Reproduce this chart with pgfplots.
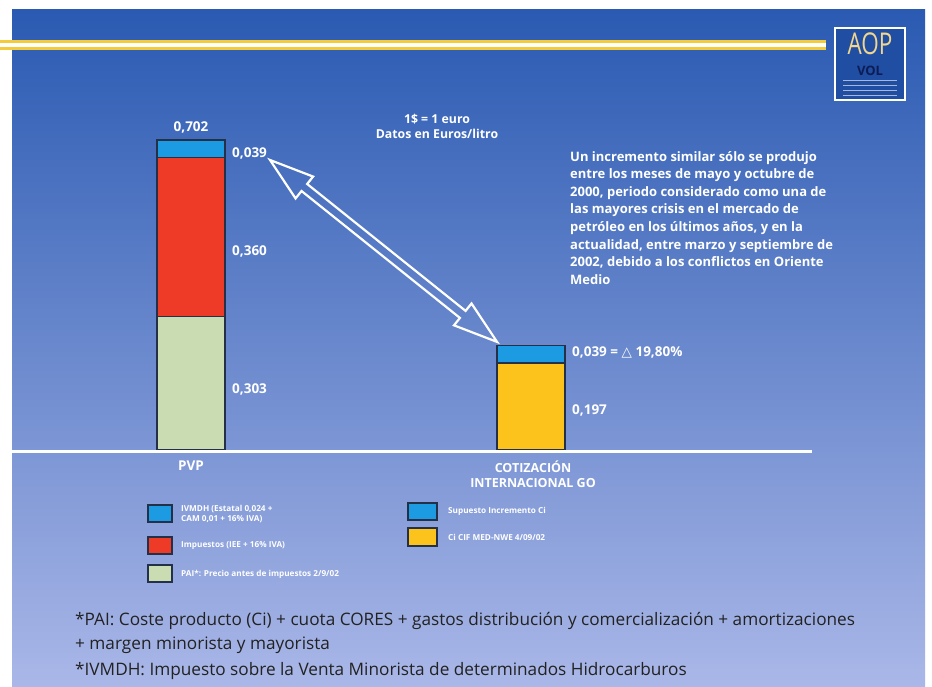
\documentclass[border=0pt]{standalone}
\usepackage{pgfplots}
\pgfplotsset{compat=1.18}
\usepackage{fontspec}
\setmainfont{Open Sans}
\newfontfamily\symfont{DejaVu Sans}

\definecolor{bgtop}{HTML}{2A5AB2}
\definecolor{bgmid}{HTML}{6F8AD2}
\definecolor{bgbot}{HTML}{AAB7E8}
\definecolor{ivmdh}{HTML}{1C9BE2}
\definecolor{impuestos}{HTML}{EE3B28}
\definecolor{pai}{HTML}{CADDB2}
\definecolor{cif}{HTML}{FBC31B}
\definecolor{edge}{HTML}{243048}
\definecolor{stripe}{HTML}{F4CC3A}
\definecolor{note}{HTML}{222222}
\definecolor{logoblue}{HTML}{1F4EA3}
\definecolor{logoyellow}{HTML}{F2D68C}
\definecolor{logonavy}{HTML}{0E1C55}

\begin{document}
\begin{tikzpicture}
\useasboundingbox (0,0) rectangle (932pt,687pt);
\fill[white] (0,0) rectangle (932pt,687pt);
\shade[top color=bgtop, middle color=bgmid, bottom color=bgbot] (12pt,0pt) rectangle (925pt,677pt);
% yellow stripe
\draw[stripe, line width=10pt] (0pt,642pt) -- (826pt,642pt);
\draw[white, line width=4pt] (0pt,642pt) -- (826pt,642pt);

\begin{axis}[
  at={(0pt,0pt)}, anchor=south west,
  scale only axis, width=932pt, height=687pt,
  xmin=0, xmax=932, ymin=-0.53668, ymax=1.01902,
  hide axis,
  ybar stacked, bar width=68,
]
% PVP: PAI, impuestos, IVMDH
\addplot[fill=pai, draw=edge, line width=1.2pt] coordinates {(191,0.303) (531,0)};
\addplot[fill=impuestos, draw=edge, line width=1.2pt] coordinates {(191,0.360) (531,0)};
\addplot[fill=ivmdh, draw=edge, line width=1.2pt] coordinates {(191,0.039) (531,0)};
% cotizacion internacional GO
\addplot[fill=cif, draw=edge, line width=1.2pt] coordinates {(191,0) (531,0.197)};
\addplot[fill=ivmdh, draw=edge, line width=1.2pt] coordinates {(191,0) (531,0.039)};
\end{axis}

\begin{scope}[shift={(0pt,687pt)}, x=1pt, y=-1pt]
  % baseline
  \draw[white, line width=3] (12,452) -- (812,452);

  % logo
  \draw[white, line width=1.5, fill=logoblue] (835,28) rectangle (905,100);
  \node[text=logoyellow, font=\fontsize{30}{30}\selectfont, xscale=0.75, inner sep=0] at (870,44) {AOP};
  \node[text=logonavy, font=\bfseries\fontsize{13}{13}\selectfont, inner sep=0] at (870,71) {VOL};
  \foreach \yy in {81,86,91,96} \draw[white!60!logoblue, line width=1] (843,\yy) -- (897,\yy);

  % value labels
  \begin{scope}[every node/.style={text=white, font=\bfseries\fontsize{13.5}{15}\selectfont, inner sep=0}]
    \node at (191,127) {0,702};
    \node[anchor=west] at (232,153) {0,039};
    \node[anchor=west] at (232,251) {0,360};
    \node[anchor=west] at (232,389) {0,303};
    \node[anchor=west] at (572,352) {0,039 = {\symfont\mdseries △} 19,80\%};
    \node[anchor=west] at (572,410) {0,197};
    \node[font=\bfseries\fontsize{12.3}{14}\selectfont] at (437,119) {1\$ = 1 euro};
    \node[font=\bfseries\fontsize{12.3}{14}\selectfont] at (437,134) {Datos en Euros/litro};
    \node at (191,466) {PVP};
    \node[align=center, font=\bfseries\fontsize{12.5}{15}\selectfont] at (533,474) {COTIZACIÓN\\INTERNACIONAL GO};
    \node[anchor=north west, align=left, font=\bfseries\fontsize{13}{17.6}\selectfont] at (570,151)
      {Un incremento similar sólo se produjo\\
       entre los meses de mayo y octubre de\\
       2000, periodo considerado como una de\\
       las mayores crisis en el mercado de\\
       petróleo en los últimos años, y en la\\
       actualidad, entre marzo y septiembre de\\
       2002, debido a los conflictos en Oriente\\
       Medio};
  \end{scope}

  % arrow
  \begin{scope}[shift={(270,160)}, rotate=-38.7]
    \draw[white, line width=2.2, line join=miter]
      (0,0) -- (44,-14) -- (44,-4.5) -- (247,-4.5) -- (247,-14) -- (291,0)
      -- (247,14) -- (247,4.5) -- (44,4.5) -- (44,14) -- cycle;
  \end{scope}

  % legends
  \begin{scope}[every node/.style={text=white, anchor=west, inner sep=0, font=\bfseries\fontsize{8.2}{10.5}\selectfont, align=left}]
    \draw[edge, fill=ivmdh, line width=1.2] (148,505) rectangle (172,522);
    \draw[edge, fill=impuestos, line width=1.2] (148,537) rectangle (172,554);
    \draw[edge, fill=pai, line width=1.2] (148,565) rectangle (172,582);
    \node at (181,514) {IVMDH (Estatal 0,024 +\\CAM 0,01 + 16\% IVA)};
    \node at (181,546) {Impuestos (IEE + 16\% IVA)};
    \node at (181,574) {PAI*: Precio antes de impuestos 2/9/02};
    \draw[edge, fill=ivmdh, line width=1.2] (408,503) rectangle (437,520);
    \draw[edge, fill=cif, line width=1.2] (408,528) rectangle (437,546);
    \node at (448,511) {Supuesto Incremento Ci};
    \node at (448,537) {Ci CIF MED-NWE 4/09/02};
  \end{scope}

  % footnotes
  \begin{scope}[every node/.style={text=note, anchor=west, inner sep=0, font=\fontsize{17.2}{19}\selectfont}]
    \node at (75,621) {*PAI: Coste producto (Ci) + cuota CORES + gastos distribución y comercialización + amortizaciones};
    \node at (75,645) {+ margen minorista y mayorista};
    \node at (75,671) {*IVMDH: Impuesto sobre la Venta Minorista de determinados Hidrocarburos};
  \end{scope}
\end{scope}
\end{tikzpicture}
\end{document}
